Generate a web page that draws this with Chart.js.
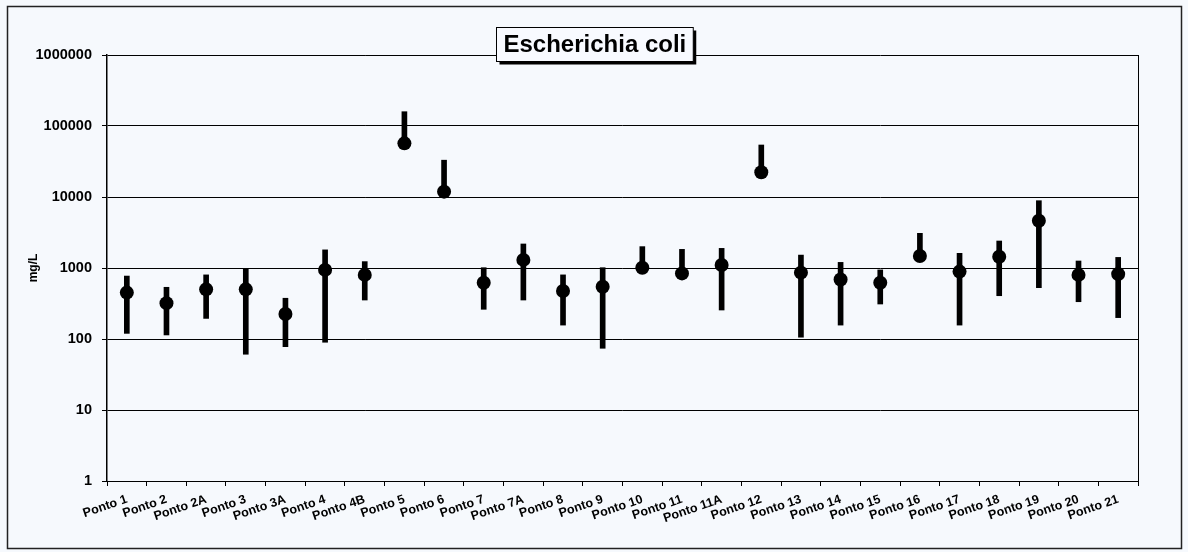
<!DOCTYPE html>
<html>
<head>
<meta charset="utf-8">
<script src="https://cdn.jsdelivr.net/npm/chart.js@4"></script>
<style>
  html, body { margin: 0; padding: 0; background: #f6f9fd; }
  #wrap { width: 1188px; height: 552px; position: relative; }
</style>
</head>
<body>
<div id="wrap"><canvas id="chart-ecoli"></canvas></div>
<script>
// pontos de coleta
const pontos = ['Ponto 1', 'Ponto 2', 'Ponto 2A', 'Ponto 3', 'Ponto 3A', 'Ponto 4', 'Ponto 4B',
  'Ponto 5', 'Ponto 6', 'Ponto 7', 'Ponto 7A', 'Ponto 8', 'Ponto 9', 'Ponto 10', 'Ponto 11',
  'Ponto 11A', 'Ponto 12', 'Ponto 13', 'Ponto 14', 'Ponto 15', 'Ponto 16', 'Ponto 17',
  'Ponto 18', 'Ponto 19', 'Ponto 20', 'Ponto 21'];

// valores (mg/L)
const medianas = [450, 320, 500, 500, 225, 940, 800, 57000, 11900, 620, 1300, 475, 545, 1010,
  840, 1100, 22300, 860, 690, 620, 1475, 890, 1440, 4640, 800, 820];
const maximos = [770, 535, 800, 960, 375, 1800, 1230, 159000, 33000, 1010, 2180, 800, 1010, 2000,
  1830, 1890, 54000, 1520, 1200, 940, 3080, 1610, 2400, 8870, 1255, 1410];
const minimos = [120, 114, 195, 61, 78, 90, 354, 57000, 11900, 262, 354, 157, 74, 1010,
  840, 256, 22300, 106, 157, 311, 1475, 157, 407, 528, 335, 200];

const yTicks = [1, 10, 100, 1000, 10000, 100000, 1000000];

const FONT = "'Liberation Sans', Arial, sans-serif";
Chart.defaults.font.family = FONT;
Chart.defaults.color = '#000';

// fundo, moldura externa, borda direita e título em caixa
const moldura = {
  id: 'moldura',
  beforeDraw(chart) {
    const { ctx, width, height } = chart;
    ctx.save();
    ctx.fillStyle = '#f6f9fd';
    ctx.fillRect(0, 0, width, height);
    ctx.strokeStyle = '#222';
    ctx.lineWidth = 1.5;
    ctx.strokeRect(7.5, 6.5, width - 14, height - 10);
    ctx.restore();
  },
  afterDraw(chart) {
    const { ctx, chartArea, width } = chart;
    ctx.save();
    ctx.strokeStyle = '#000';
    ctx.lineWidth = 1;
    ctx.beginPath();
    ctx.moveTo(chartArea.right + 0.5, chartArea.top);
    ctx.lineTo(chartArea.right + 0.5, chartArea.bottom);
    ctx.stroke();

    const text = 'Escherichia coli';
    ctx.font = `bold 24px ${FONT}`;
    const w = ctx.measureText(text).width + 14;
    const h = 34;
    const x = Math.round(width / 2 - w / 2) + 0.5;
    const y = 27.5;
    ctx.fillStyle = '#000';
    ctx.fillRect(x + 3, y + 3, w, h);
    ctx.fillStyle = '#f8faff';
    ctx.fillRect(x, y, w, h);
    ctx.strokeRect(x, y, w, h);
    ctx.fillStyle = '#000';
    ctx.textAlign = 'center';
    ctx.textBaseline = 'middle';
    ctx.fillText(text, x + w / 2, y + h / 2 + 1);
    ctx.restore();
  },
};

new Chart(document.getElementById('chart-ecoli'), {
  type: 'bar',
  data: {
    labels: pontos,
    datasets: [
      {
        type: 'line',
        label: 'Mediana',
        data: medianas,
        showLine: false,
        pointRadius: 7,
        pointBackgroundColor: '#000',
        pointBorderColor: '#000',
        pointBorderWidth: 0,
        order: 0,
      },
      {
        type: 'bar',
        label: 'Faixa',
        data: pontos.map((_, i) => [minimos[i], maximos[i]]),
        backgroundColor: '#000',
        borderWidth: 0,
        barThickness: 5,
        order: 1,
      },
    ],
  },
  options: {
    responsive: true,
    maintainAspectRatio: false,
    animation: false,
    layout: { padding: { top: 55, right: 50, left: 20, bottom: 0 } },
    plugins: {
      legend: { display: false },
      tooltip: { enabled: false },
    },
    scales: {
      x: {
        offset: true,
        grid: {
          offset: true,
          drawOnChartArea: false,
          drawTicks: true,
          tickLength: 5,
          color: '#000',
        },
        border: { color: '#000', width: 1 },
        ticks: {
          font: { size: 12.5, weight: 'bold' },
          color: '#000',
          minRotation: 19,
          maxRotation: 19,
          autoSkip: false,
          padding: 6,
        },
        afterFit: (scale) => { scale.height = 71; },
      },
      y: {
        type: 'logarithmic',
        min: 1,
        max: 1000000,
        afterBuildTicks: (scale) => {
          scale.ticks = yTicks.map((v) => ({ value: v }));
        },
        afterFit: (scale) => { scale.width = 87; },
        grid: { color: '#000', lineWidth: 1, tickLength: 5 },
        border: { color: '#000', width: 1.5 },
        ticks: {
          font: { size: 14.5, weight: 'bold' },
          color: '#000',
          padding: 10,
          callback: (v) => String(v),
        },
        title: {
          display: true,
          text: 'mg/L',
          font: { size: 12, weight: 'bold' },
          color: '#000',
          padding: { top: 6, bottom: 0 },
        },
      },
    },
  },
  plugins: [moldura],
});
</script>
</body>
</html>
